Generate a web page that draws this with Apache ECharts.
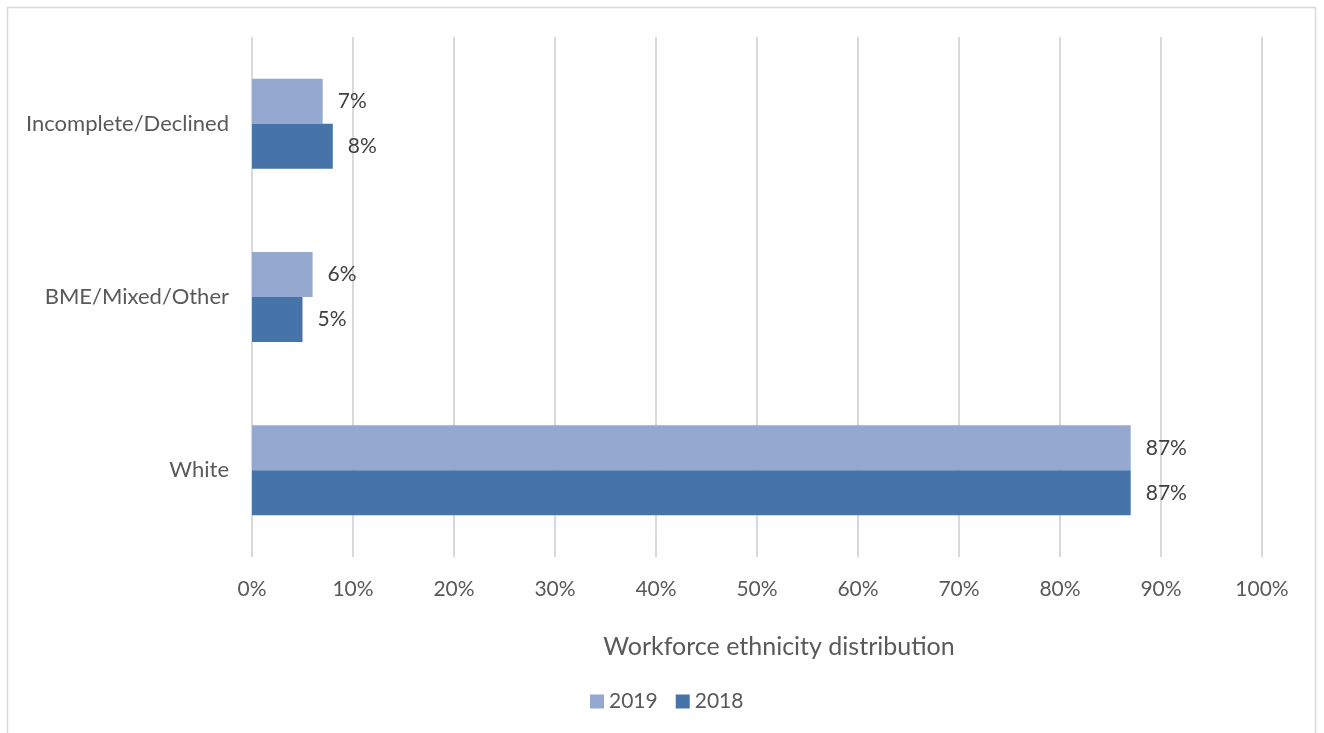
<!DOCTYPE html>
<html>
<head>
<meta charset="utf-8">
<script src="https://cdn.jsdelivr.net/npm/echarts@6/dist/echarts.min.js"></script>
<style>
html,body{margin:0;padding:0;background:#fff;}
#c{width:1324px;height:733px;}
</style>
</head>
<body>
<div id="c"></div>
<script>
const categories = ['White', 'BME/Mixed/Other', 'Incomplete/Declined'];
const values2019 = [87, 6, 7];
const values2018 = [87, 5, 8];
const xTicks = [0, 10, 20, 30, 40, 50, 60, 70, 80, 90, 100];
const axisTitle = 'Workforce ethnicity distribution';

const FONT = 'Lato, "Open Sans", sans-serif';
const TXT = '#595959';
const chart = echarts.init(document.getElementById('c'), null, {renderer: 'canvas'});
const labelCfg = {
  show: true, position: 'right', distance: 15,
  formatter: p => p.value + '%',
  color: '#404040', fontSize: 21, fontFamily: FONT
};
chart.setOption({
  backgroundColor: '#fff',
  animation: false,
  graphic: [
    {type: 'rect', shape: {x: 7.5, y: 7.5, width: 1308, height: 740}, style: {fill: 'none', stroke: '#d9d9d9', lineWidth: 1.5}, silent: true},
    {type: 'text', x: 779, y: 647, style: {text: axisTitle, fill: TXT, font: '25px ' + FONT, textAlign: 'center', textVerticalAlign: 'middle'}, silent: true}
  ],
  legend: {
    data: ['2019', '2018'],
    top: 686, left: 585,
    itemWidth: 14, itemHeight: 14, itemGap: 18,
    icon: 'rect',
    textStyle: {color: TXT, fontSize: 21, fontFamily: FONT}
  },
  grid: {left: 252, right: 62, top: 37, bottom: 176},
  xAxis: {
    type: 'value', min: 0, max: 100, interval: 10,
    axisLine: {show: false}, axisTick: {show: false},
    axisLabel: {formatter: v => v + '%', color: TXT, fontSize: 21, fontFamily: FONT, margin: 22},
    splitLine: {show: true, lineStyle: {color: '#d9d9d9', width: 2}}
  },
  yAxis: {
    type: 'category', data: categories,
    axisLine: {show: false}, axisTick: {show: false},
    axisLabel: {color: TXT, fontSize: 22, fontFamily: FONT, margin: 23}
  },
  series: [
    {name: '2019', type: 'bar', data: values2019, barWidth: 45, barGap: '0%',
     itemStyle: {color: '#95a9d0'}, label: labelCfg},
    {name: '2018', type: 'bar', data: values2018, barWidth: 45, barGap: '0%',
     itemStyle: {color: '#4674a8'}, label: labelCfg}
  ]
});
</script>
</body>
</html>
